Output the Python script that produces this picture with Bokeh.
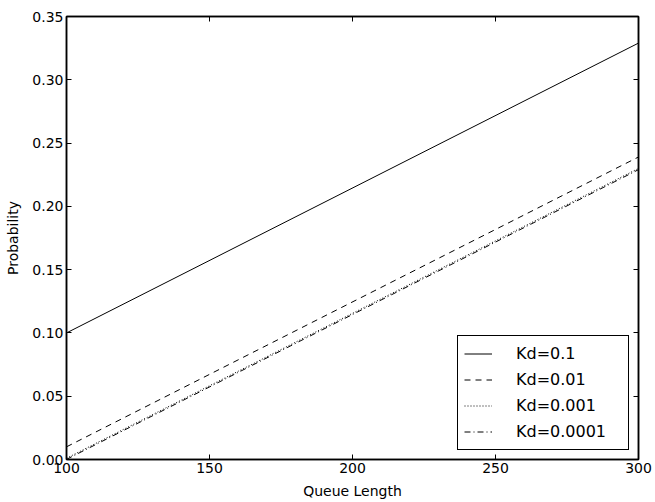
from bokeh.plotting import figure
from bokeh.models import Range1d, LinearAxis, Legend, LegendItem, FixedTicker, NumeralTickFormatter
from bokeh.embed import file_html
from bokeh.resources import INLINE

queue_length = [100, 300]
kd_labels = ["Kd=0.1", "Kd=0.01", "Kd=0.001", "Kd=0.0001"]
prob_kd_01 = [0.1, 0.329]
prob_kd_001 = [0.01, 0.239]
prob_kd_0001 = [0.001, 0.230]
prob_kd_00001 = [0.0001, 0.229]
x_ticks = [100, 150, 200, 250, 300]
y_ticks = [0.0, 0.05, 0.10, 0.15, 0.20, 0.25, 0.30, 0.35]

FONT = "DejaVu Sans"

p = figure(width=655, height=502, output_backend="svg", toolbar_location=None,
           x_range=Range1d(100, 300), y_range=Range1d(0, 0.35),
           min_border_left=66, min_border_right=17, min_border_top=16, min_border_bottom=43)
p.grid.visible = False
p.outline_line_color = "black"
p.outline_line_width = 1.5
p.background_fill_color = "white"
p.border_fill_color = "white"

series = [prob_kd_01, prob_kd_001, prob_kd_0001, prob_kd_00001]
dashes = ["solid", "6 5", "1 2", "6 3 1 3"]
items = []
for lab, ys, d in zip(kd_labels, series, dashes):
    r = p.line(queue_length, ys, line_color="black", line_width=1, line_dash=d)
    items.append(LegendItem(label=lab, renderers=[r]))

legend = Legend(items=items, location="bottom_right")
legend.label_text_font = FONT
legend.label_text_font_size = "16px"
legend.label_text_color = "black"
legend.border_line_color = "black"
legend.border_line_alpha = 1
legend.border_line_width = 1
legend.glyph_width = 28
legend.label_standoff = 24
legend.label_width = 106
legend.spacing = 3
legend.padding = 6
legend.margin = 9
legend.label_height = 23
legend.glyph_height = 23
p.add_layout(legend, "center")


def style_axis(ax, show_labels=True):
    ax.axis_line_color = "black"
    ax.axis_line_width = 1.5
    ax.major_tick_in = 5
    ax.major_tick_out = 0
    ax.minor_tick_in = 0
    ax.minor_tick_out = 0
    ax.major_tick_line_color = "black"
    ax.major_label_text_font = FONT
    ax.major_label_text_font_size = "14px"
    ax.major_label_text_color = "black"
    ax.axis_label_text_font = FONT
    ax.axis_label_text_font_size = "14px"
    ax.axis_label_text_color = "black"
    ax.axis_label_text_font_style = "normal"
    ax.major_label_standoff = 3
    if not show_labels:
        ax.major_label_text_alpha = 0
        ax.major_label_text_font_size = "1px"


p.xaxis.ticker = FixedTicker(ticks=x_ticks)
p.yaxis.ticker = FixedTicker(ticks=y_ticks)
p.yaxis.formatter = NumeralTickFormatter(format="0.00")
p.xaxis.axis_label = "Queue Length"
p.yaxis.axis_label = "Probability"
style_axis(p.xaxis[0])
style_axis(p.yaxis[0])
p.xaxis.axis_label_standoff = 7
p.yaxis.axis_label_standoff = 8

top = LinearAxis(ticker=FixedTicker(ticks=x_ticks))
style_axis(top, False)
p.add_layout(top, "above")
right = LinearAxis(ticker=FixedTicker(ticks=y_ticks))
style_axis(right, False)
p.add_layout(right, "right")

open("out.html", "w").write(file_html(p, INLINE))
